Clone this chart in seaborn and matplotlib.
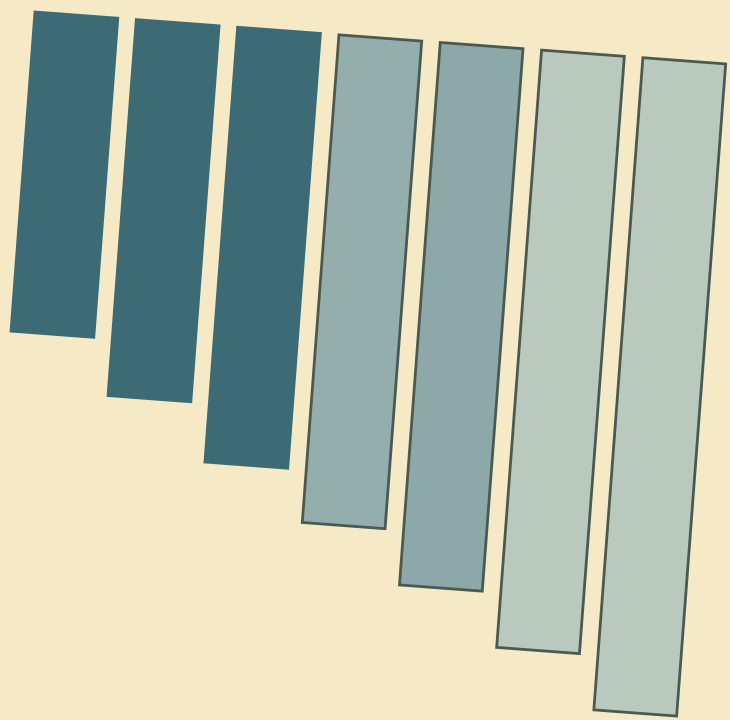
import matplotlib
matplotlib.use("Agg")
import matplotlib.pyplot as plt
import matplotlib.transforms as mtransforms
import seaborn as sns

# bar data (lengths, arbitrary units)
categories = ["A", "B", "C", "D", "E", "F", "G"]
values = [32.0, 37.7, 43.6, 48.9, 54.4, 59.9, 65.4]
fill_colors = ["#3c6b76", "#3c6b76", "#3c6b76", "#93aeac", "#8ca8a8", "#bac9be", "#bac9be"]
edge_colors = ["#3c6b76", "#3c6b76", "#3c6b76", "#4a5a53", "#4a5a53", "#4a5a53", "#4a5a53"]

paper = "#f6eac6"

fig = plt.figure(figsize=(7.3, 7.2), dpi=100, facecolor=paper)
ax = fig.add_axes([0, 0, 1, 1])
ax.set_facecolor(paper)

sns.barplot(x=categories, y=values, hue=categories, palette=fill_colors,
            legend=False, width=0.817, saturation=1, ax=ax)

# bars hang down from the top edge
ax.set_ylim(70.8, -1.2)
ax.set_xlim(-0.753, 6.432)
ax.axis("off")

# the printed page was photographed slightly rotated
rot = mtransforms.Affine2D().rotate_deg_around(35, 708, -4.3)
for patch, ec in zip(ax.patches, edge_colors):
    patch.set_edgecolor(ec)
    patch.set_linewidth(2.0)
    patch.set_transform(ax.transData + rot)

fig.savefig("out.png", dpi=100, facecolor=paper)
